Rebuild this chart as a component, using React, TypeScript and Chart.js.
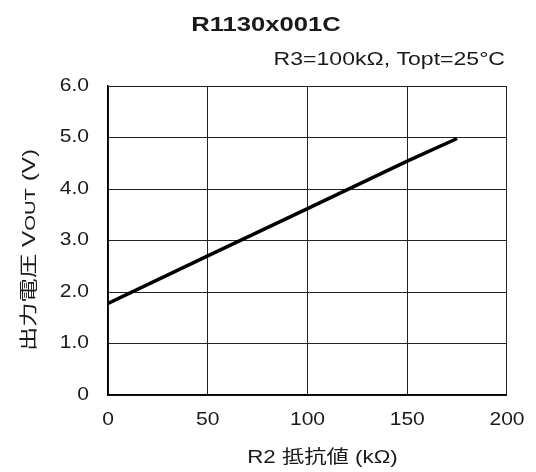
import React, { useEffect, useRef } from "react";
import { Chart, registerables } from "chart.js";

Chart.register(...registerables);

// Output voltage vs. R2 resistance (R3 = 100 kΩ, Topt = 25 °C)
const r2Values = [0, 50, 100, 150, 175];
const voutValues = [1.78, 2.7, 3.62, 4.54, 4.98];

const xTicks = [0, 50, 100, 150, 200];
const yTicks = [0, 1, 2, 3, 4, 5, 6];

const chartTitle = "R1130x001C";
const chartSubtitle = "R3=100kΩ, Topt=25°C";
const xAxisTitle = "R2 抵抗値 (kΩ)";
const yAxisTitleParts = [
  { text: "出力電圧 V", size: 18 },
  { text: "OUT", size: 15 },
  { text: " (V)", size: 18 },
];

const FONT = "'Liberation Sans', Arial, 'Noto Sans CJK JP', sans-serif";
const INK = "#1a1a1a";
const W = 536;
const H = 472;

// glyphs are drawn wide: every fillText is scaled horizontally about its anchor
let textStretch = 1.17;
const nativeFillText = CanvasRenderingContext2D.prototype.fillText;

const wideTextPlugin = {
  id: "wideText",
  beforeDraw(chart: any) {
    const ctx = chart.ctx;
    if (ctx.__wide) return;
    ctx.__wide = true;
    ctx.fillText = function (text: string, x: number, y: number, maxWidth?: number) {
      this.save();
      this.translate(x, y);
      this.scale(textStretch, 1);
      if (maxWidth === undefined) nativeFillText.call(this, text, 0, 0);
      else nativeFillText.call(this, text, 0, 0, maxWidth / textStretch);
      this.restore();
    };
  },
};

const textPlugin = {
  id: "chartTexts",
  afterDraw(chart: any) {
    const { ctx, chartArea } = chart;
    ctx.save();
    ctx.fillStyle = INK;
    ctx.textBaseline = "alphabetic";

    textStretch = 1.22;
    ctx.font = `bold 21px ${FONT}`;
    ctx.textAlign = "center";
    ctx.fillText(chartTitle, 266, 31);

    textStretch = 1.28;
    ctx.font = `18px ${FONT}`;
    ctx.textAlign = "right";
    ctx.fillText(chartSubtitle, 505, 65);

    textStretch = 1.24;
    ctx.textAlign = "center";
    ctx.fillText(xAxisTitle, (chartArea.left + chartArea.right) / 2 + 15, 463);

    // rotated y-axis title with small-caps subscript
    textStretch = 1.35;
    ctx.translate(28, 250);
    ctx.rotate(-Math.PI / 2);
    ctx.textAlign = "left";
    let total = 0;
    const widths = yAxisTitleParts.map((p) => {
      ctx.font = `${p.size}px ${FONT}`;
      const w = ctx.measureText(p.text).width * textStretch;
      total += w;
      return w;
    });
    let x = -total / 2;
    yAxisTitleParts.forEach((p, i) => {
      ctx.font = `${p.size}px ${FONT}`;
      ctx.fillText(p.text, x, 7);
      x += widths[i];
    });
    ctx.restore();
    textStretch = 1.17;
  },
};

export default function App() {
  const canvasRef = useRef<HTMLCanvasElement | null>(null);

  useEffect(() => {
    if (!canvasRef.current) return;
    const chart = new Chart(canvasRef.current, {
      type: "line",
      data: {
        datasets: [
          {
            data: r2Values.map((x, i) => ({ x, y: voutValues[i] })),
            borderColor: "#000",
            borderWidth: 3.5,
            pointRadius: 0,
            tension: 0,
            fill: false,
          },
        ],
      },
      options: {
        animation: false,
        responsive: false,
        maintainAspectRatio: false,
        devicePixelRatio: 1,
        layout: { padding: { top: 86, right: 27, left: 0, bottom: 0 } },
        plugins: {
          legend: { display: false },
          title: { display: false },
          tooltip: { enabled: false },
        },
        scales: {
          x: {
            type: "linear",
            min: xTicks[0],
            max: xTicks[xTicks.length - 1],
            afterBuildTicks: (scale: any) => {
              scale.ticks = xTicks.map((v) => ({ value: v }));
            },
            afterFit: (scale: any) => {
              scale.height = 77;
            },
            ticks: {
              color: INK,
              font: { family: FONT, size: 18 },
              padding: 14,
              maxRotation: 0,
            },
            grid: { color: "#222", lineWidth: 1, drawTicks: false },
            border: { color: "#000", width: 1.5 },
          },
          y: {
            min: yTicks[0],
            max: yTicks[yTicks.length - 1],
            afterBuildTicks: (scale: any) => {
              scale.ticks = yTicks.map((v) => ({ value: v }));
            },
            afterFit: (scale: any) => {
              scale.width = 108;
            },
            ticks: {
              color: INK,
              font: { family: FONT, size: 18 },
              padding: 19,
              callback: (v: any) => (Number(v) === 0 ? "0" : Number(v).toFixed(1)),
            },
            grid: { color: "#222", lineWidth: 1, drawTicks: false },
            border: { color: "#000", width: 1.5 },
          },
        },
      },
      plugins: [wideTextPlugin, textPlugin],
    });
    return () => chart.destroy();
  }, []);

  return (
    <div style={{ position: "fixed", left: 0, top: 0, width: W, height: H, background: "#fff" }}>
      <canvas
        ref={canvasRef}
        width={W}
        height={H}
        style={{ display: "block", width: W, height: H }}
      />
    </div>
  );
}
